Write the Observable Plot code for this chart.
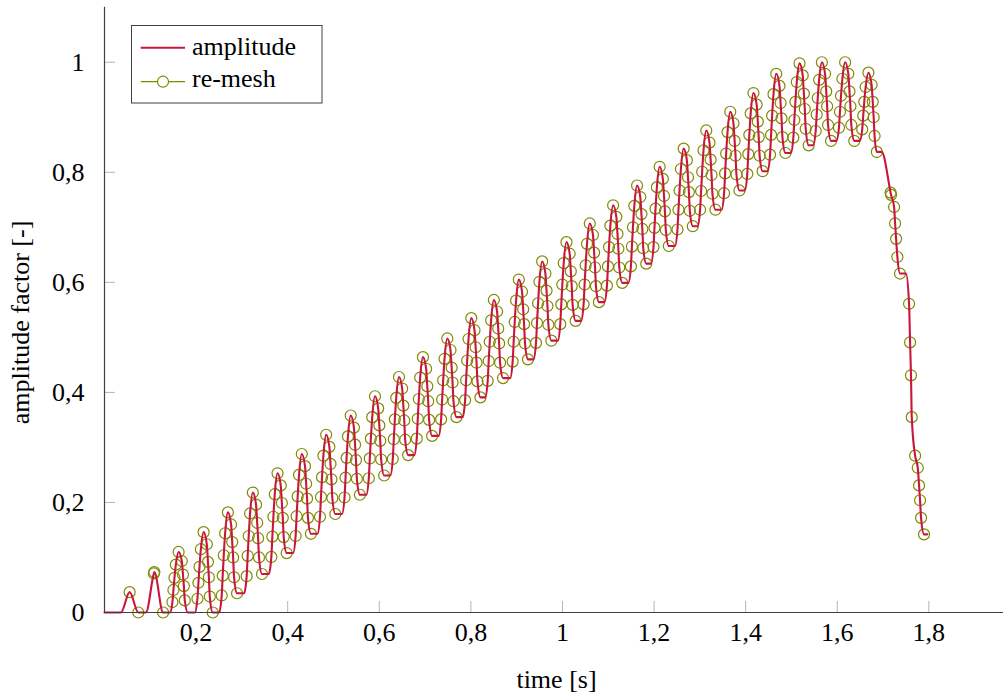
<!DOCTYPE html>
<html><head><meta charset="utf-8">
<script src="https://cdn.jsdelivr.net/npm/d3@7"></script>
<script src="https://cdn.jsdelivr.net/npm/@observablehq/plot@0.6"></script>
<style>
body{margin:0;background:#fff;}
#wrap{position:relative;width:1003px;height:697px;}
#legend{position:absolute;left:0;top:0;pointer-events:none;}
</style></head><body><div id="wrap"></div>
<script>
// re-mesh points (time [s], amplitude factor), read cycle by cycle
const remeshT = [
0.0549,0.0738,
0.1078,0.1088,0.1280,
0.1483,0.1505,0.1528,0.1558,0.1618,0.1688,0.1713,0.1733,0.1753,
0.2029,0.2051,0.2074,0.2104,0.2164,0.2234,0.2259,0.2279,0.2299,0.2364,
0.2559,0.2581,0.2604,0.2634,0.2694,0.2764,0.2789,0.2809,0.2829,0.2894,
0.3104,0.3126,0.3149,0.3179,0.3239,0.3309,0.3334,0.3354,0.3374,0.3439,
0.3643,0.3665,0.3688,0.3718,0.3778,0.3848,0.3873,0.3893,0.3913,0.3978,
0.4173,0.4195,0.4218,0.4248,0.4308,0.4378,0.4403,0.4423,0.4443,0.4508,
0.4705,0.4727,0.4750,0.4780,0.4840,0.4910,0.4935,0.4955,0.4975,0.5040,
0.5241,0.5263,0.5286,0.5316,0.5376,0.5446,0.5471,0.5491,0.5511,0.5576,
0.5771,0.5793,0.5816,0.5846,0.5906,0.5976,0.6001,0.6021,0.6041,0.6106,
0.6295,0.6317,0.6340,0.6370,0.6430,0.6500,0.6525,0.6545,0.6565,0.6630,
0.6818,0.6840,0.6863,0.6893,0.6953,0.7023,0.7048,0.7068,0.7088,0.7153,
0.7350,0.7372,0.7395,0.7425,0.7485,0.7555,0.7580,0.7600,0.7620,0.7685,
0.7874,0.7896,0.7919,0.7949,0.8009,0.8079,0.8104,0.8124,0.8144,0.8209,
0.8367,0.8389,0.8412,0.8442,0.8502,0.8572,0.8597,0.8617,0.8637,0.8702,
0.8912,0.8934,0.8957,0.8987,0.9047,0.9117,0.9142,0.9162,0.9182,0.9247,
0.9422,0.9444,0.9467,0.9497,0.9557,0.9627,0.9652,0.9672,0.9692,0.9757,
0.9952,0.9974,0.9997,1.0027,1.0087,1.0157,1.0182,1.0202,1.0222,1.0287,
1.0461,1.0483,1.0506,1.0536,1.0596,1.0666,1.0691,1.0711,1.0731,1.0796,
1.0971,1.0993,1.1016,1.1046,1.1106,1.1176,1.1201,1.1221,1.1241,1.1306,
1.1494,1.1516,1.1539,1.1569,1.1629,1.1699,1.1724,1.1744,1.1764,1.1829,
1.1987,1.2009,1.2032,1.2062,1.2122,1.2192,1.2217,1.2237,1.2257,1.2322,
1.2511,1.2533,1.2556,1.2586,1.2646,1.2716,1.2741,1.2761,1.2781,1.2846,
1.3005,1.3027,1.3050,1.3080,1.3140,1.3210,1.3235,1.3255,1.3275,1.3340,
1.3529,1.3551,1.3574,1.3604,1.3664,1.3734,1.3759,1.3779,1.3799,1.3864,
1.4035,1.4057,1.4080,1.4110,1.4170,1.4240,1.4265,1.4285,1.4305,1.4370,
1.4533,1.4555,1.4578,1.4608,1.4668,1.4738,1.4763,1.4783,1.4803,1.4868,
1.5041,1.5063,1.5086,1.5116,1.5176,1.5246,1.5271,1.5291,1.5311,1.5376,
1.5529,1.5551,1.5574,1.5604,1.5664,1.5734,1.5759,1.5779,1.5799,1.5864,
1.6037,1.6059,1.6082,1.6112,1.6172,1.6242,1.6267,1.6287,1.6307,1.6372,
1.6545,1.6567,1.6590,1.6620,1.6680,1.6750,1.6775,1.6795,1.6815,1.6864,
1.7165,1.7175,1.7241,1.7263,1.7285,1.7313,1.7370,1.7568,1.7590,1.7610,1.7627,1.7700,1.7758,1.7786,1.7808,1.7830,1.7895
];
const remeshV = [
0.037,0,
0.071,0.0735,0,
0.019,0.041,0.063,0.087,0.110,0.0935,0.069,0.048,0.022,
0.025,0.054,0.083,0.115,0.146,0.124,0.092,0.064,0.029,0,
0.031,0.067,0.104,0.144,0.182,0.160,0.128,0.100,0.064,0.035,
0.066,0.103,0.139,0.180,0.218,0.196,0.163,0.135,0.100,0.070,
0.101,0.138,0.174,0.215,0.253,0.231,0.199,0.172,0.137,0.108,
0.139,0.175,0.211,0.250,0.288,0.266,0.234,0.207,0.172,0.143,
0.174,0.210,0.246,0.285,0.323,0.301,0.270,0.242,0.208,0.179,
0.209,0.245,0.281,0.320,0.358,0.336,0.305,0.277,0.243,0.214,
0.244,0.280,0.316,0.355,0.393,0.371,0.340,0.312,0.278,0.249,
0.279,0.315,0.351,0.390,0.428,0.407,0.376,0.349,0.314,0.286,
0.316,0.352,0.388,0.427,0.464,0.443,0.411,0.384,0.350,0.321,
0.351,0.387,0.422,0.461,0.498,0.477,0.445,0.418,0.384,0.355,
0.386,0.422,0.458,0.497,0.535,0.513,0.482,0.454,0.420,0.391,
0.421,0.457,0.492,0.531,0.568,0.547,0.516,0.489,0.454,0.426,
0.456,0.492,0.528,0.567,0.605,0.583,0.551,0.524,0.489,0.460,
0.490,0.526,0.562,0.601,0.638,0.616,0.585,0.557,0.523,0.494,
0.524,0.560,0.596,0.635,0.673,0.652,0.620,0.593,0.559,0.530,
0.560,0.596,0.631,0.670,0.707,0.686,0.654,0.627,0.593,0.564,
0.594,0.629,0.664,0.703,0.740,0.719,0.688,0.661,0.627,0.599,
0.629,0.665,0.700,0.739,0.776,0.755,0.724,0.697,0.662,0.634,
0.664,0.699,0.734,0.773,0.810,0.788,0.757,0.729,0.695,0.666,
0.696,0.732,0.767,0.806,0.843,0.822,0.791,0.764,0.730,0.702,
0.732,0.766,0.801,0.840,0.876,0.854,0.823,0.795,0.761,0.732,
0.762,0.798,0.834,0.873,0.910,0.889,0.857,0.830,0.796,0.767,
0.797,0.833,0.868,0.907,0.944,0.923,0.892,0.864,0.830,0.802,
0.832,0.868,0.903,0.942,0.979,0.957,0.926,0.898,0.864,0.835,
0.863,0.895,0.928,0.964,0.998,0.976,0.943,0.915,0.879,0.849,
0.875,0.905,0.935,0.968,1.000,0.979,0.947,0.920,0.886,0.857,
0.881,0.910,0.939,0.970,1.000,0.979,0.947,0.920,0.886,0.857,
0.878,0.903,0.928,0.955,0.981,0.959,0.928,0.900,0.866,0.837,
0.763,0.759,0.737,0.707,0.679,0.646,0.616,0.561,0.491,0.431,0.355,0.285,0.263,0.231,0.204,0.172,0.142
];
// amplitude curve points where no re-mesh happened (flat troughs, rise starts, end)
const ampExtraT = [0,0.0360,0.0905,0.1428,0.1818,0.1974,0.2504,0.3049,0.3588,0.4118,0.4650,0.5186,0.5716,0.6240,0.6763,0.7295,0.7819,0.8312,0.8857,0.9367,0.9897,1.0406,1.0916,1.1439,1.1932,1.2456,1.2950,1.3474,1.3980,1.4478,1.4986,1.5474,1.5982,1.6490,1.6970,1.7500,1.7967];
const ampExtraV = [0,0,0,0,0,0,0,0.035,0.070,0.108,0.143,0.179,0.214,0.249,0.286,0.321,0.355,0.391,0.426,0.460,0.494,0.530,0.564,0.599,0.634,0.666,0.702,0.732,0.767,0.802,0.835,0.849,0.857,0.857,0.837,0.616,0.142];

const xTicks = [0.2,0.4,0.6,0.8,1,1.2,1.4,1.6,1.8];
const yTicks = [0,0.2,0.4,0.6,0.8,1];
const seriesNames = ["amplitude","re-mesh"];
const xLabel = "time [s]";
const yLabel = "amplitude factor [-]";

const remesh = remeshT.map((t,i)=>({t, v: remeshV[i]}));
const amplitude = remesh.concat(ampExtraT.map((t,i)=>({t, v: ampExtraV[i]}))).sort((a,b)=>a.t-b.t);

const W=1003, H=697, mL=104, mR=0, mT=6.7, mB=85;
const RED="#c8163e", OLIVE="#808a00", TICK="#b4b4b4", AXIS="#404040";
const FONT="Liberation Serif, DejaVu Serif, serif";
const fmt = d => String(d).replace(".", ",");

const chart = Plot.plot({
  width: W, height: H, marginLeft: mL, marginRight: mR, marginTop: mT, marginBottom: mB,
  style: {fontFamily: FONT, fontSize: "26px", background: "white", color: "#000", overflow: "visible"},
  x: {domain: [0, 1.963]},
  y: {domain: [0, 1.1]},
  marks: [
    Plot.tickX(xTicks, {x: d=>d, stroke: TICK, strokeWidth: 1, insetTop: (H-mT-mB)-11}),
    Plot.tickY(yTicks, {y: d=>d, stroke: TICK, strokeWidth: 1, insetRight: (W-mL-mR)-11}),
    Plot.dot(remesh, {x:"t", y:"v", r:5.5, stroke: OLIVE, strokeWidth: 1.2, fill: "none"}),
    Plot.line(amplitude, {x:"t", y:"v", stroke: RED, strokeWidth: 2.1, curve: "monotone-x"}),
    Plot.ruleY([0], {stroke: AXIS, strokeWidth: 1.2}),
    Plot.ruleX([0], {stroke: AXIS, strokeWidth: 1.2}),
    Plot.axisX(xTicks, {tickSize: 0, tickPadding: 10, tickFormat: fmt, label: null, fontFamily: FONT}),
    Plot.axisY(yTicks, {tickSize: 0, tickPadding: 20, tickFormat: fmt, label: null, fontFamily: FONT}),
    Plot.text([xLabel], {text: d=>d, frameAnchor: "bottom", dy: 66.7, dx: 2.5, lineAnchor: "middle", textAnchor: "middle", fontFamily: FONT}),
    Plot.text([yLabel], {text: d=>d, frameAnchor: "left", dx: -84, dy: 12.6, rotate: -90, lineAnchor: "middle", textAnchor: "middle", fontFamily: FONT})
  ]
});
const wrap = document.getElementById("wrap");
wrap.appendChild(chart);

// legend
const ns = "http://www.w3.org/2000/svg";
const lg = document.createElementNS(ns, "svg");
lg.setAttribute("id","legend"); lg.setAttribute("width", W); lg.setAttribute("height", 120);
function el(name, attrs, txt){ const e=document.createElementNS(ns,name); for(const k in attrs) e.setAttribute(k, attrs[k]); if(txt) e.textContent=txt; lg.appendChild(e); return e; }
el("rect",{x:131.5,y:25.5,width:190.5,height:77.5,fill:"white",stroke:AXIS,"stroke-width":1});
el("line",{x1:140.7,x2:185,y1:47.7,y2:47.7,stroke:RED,"stroke-width":2});
el("text",{x:192,y:55,"font-family":FONT,"font-size":26,fill:"#000"},seriesNames[0]);
el("line",{x1:140.7,x2:185,y1:81.7,y2:81.7,stroke:OLIVE,"stroke-width":1.2});
el("circle",{cx:163,cy:81.7,r:5.5,fill:"white",stroke:OLIVE,"stroke-width":1.2});
el("text",{x:192,y:87.3,"font-family":FONT,"font-size":26,fill:"#000"},seriesNames[1]);
wrap.appendChild(lg);
</script>
</body></html>
